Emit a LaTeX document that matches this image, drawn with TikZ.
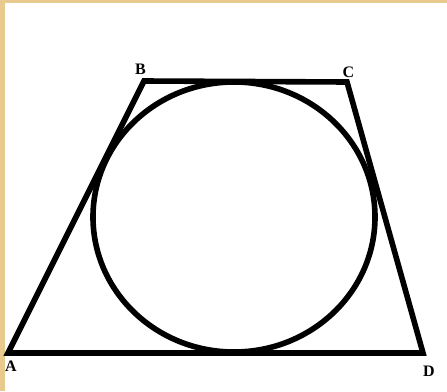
\documentclass[tikz,border=0pt]{standalone}
\usepackage{fontspec}
\setmainfont{Liberation Serif}
\usepackage{xcolor}
\definecolor{framegold}{RGB}{232,202,142}
\usepackage{tikz}
\usetikzlibrary{positioning}

\begin{document}
\begin{tikzpicture}[x=1pt, y=-1pt,
    edge/.style={line width=5.6pt, line join=miter},
    vertex/.style={font=\fontsize{16}{16}\selectfont\bfseries, inner sep=0pt},
  ]
    % Cadre
    \useasboundingbox (0,0) rectangle (447,391);
    \fill[white] (0,0) rectangle (447,391);
    \fill[framegold] (0,0) rectangle (5,391);
    \fill[framegold] (0,0) rectangle (447,2.5);

    % Sommets du trapeze
    \coordinate (A) at (8, 353);
    \coordinate (B) at (144, 81);
    \coordinate (C) at (347, 82);
    \coordinate (D) at (423, 353);

    \draw[edge] (A) -- (B) -- (C) -- (D) -- cycle;

    % Cercle inscrit
    \coordinate (O) at (234, 217);
    \draw[edge] (O) ellipse [x radius=141, y radius=135];

    % Etiquettes
    \node[vertex, above=6.5pt of B, xshift=-3.5pt] (lblB) {B};
    \node[vertex, above=4pt of C, xshift=1.5pt] (lblC) {C};
    \node[vertex, below=7.5pt of A, xshift=3pt] (lblA) {A};
    \node[vertex, below=12.5pt of D, xshift=6pt] (lblD) {D};
  \end{tikzpicture}
\end{document}
